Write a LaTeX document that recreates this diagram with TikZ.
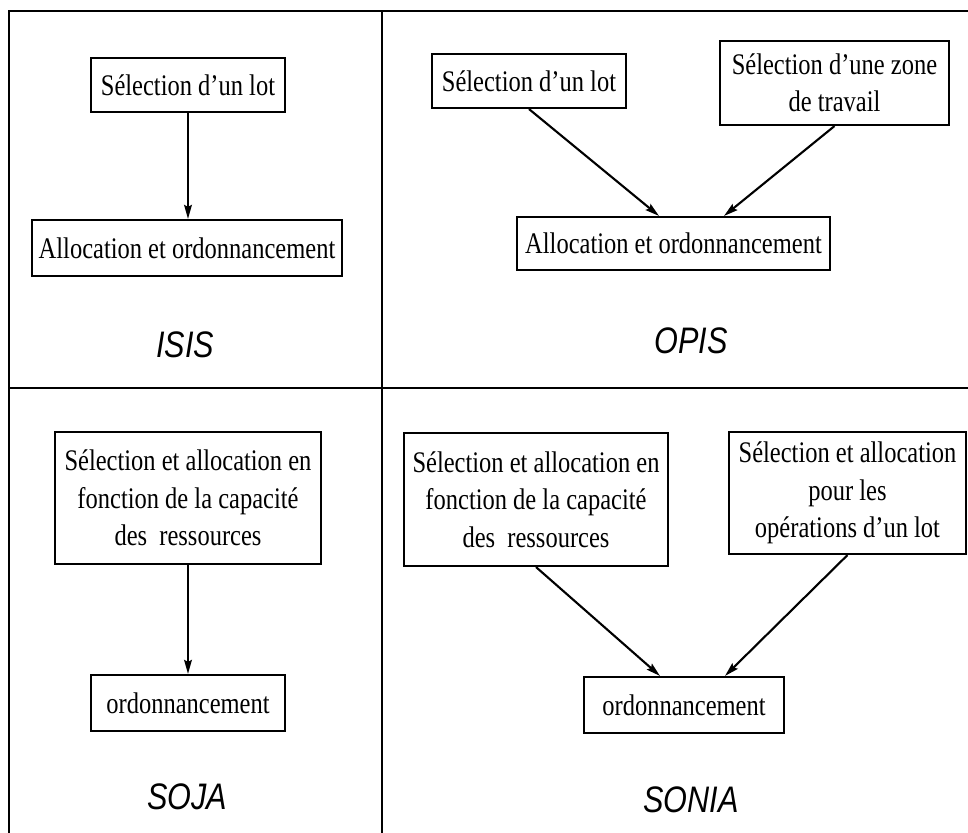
\documentclass[tikz,border=0pt]{standalone}
\usepackage{fontspec}
\setmainfont{Liberation Serif}[FakeStretch=0.82]
\newfontfamily\titrefont{Liberation Sans}[FakeStretch=0.83]
\usetikzlibrary{arrows.meta}

\begin{document}
\begin{tikzpicture}[line width=1.2pt,
  boite/.style={draw,inner sep=0pt,align=center,font=\fontsize{17}{21.3}\selectfont},
  titre/.style={font=\titrefont\itshape\fontsize{21}{22}\selectfont},
  fleche/.style={-{Stealth[length=8pt,width=4.4pt,inset=1.2pt]}}]
\useasboundingbox (0,0) rectangle (19.36,-16.66);
\draw (0.18,-16.66) -- (0.18,-0.22) -- (19.36,-0.22);
\draw (7.64,-0.22) -- (7.64,-16.66);
\draw (0.18,-7.76) -- (19.36,-7.76);

\node [boite,minimum width=3.88cm,minimum height=1.08cm] (a) at (3.76,-1.70) {S\'election d'un lot};
\node [boite,minimum width=6.20cm,minimum height=1.12cm] (b) at (3.74,-4.96) {Allocation et ordonnancement};
\node [titre] (isis) at (3.70,-6.90) {ISIS};
\draw [fleche] (a.south) -- (a.south |- b.north);

\node [boite,minimum width=3.88cm,minimum height=1.08cm] (c) at (10.58,-1.62) {S\'election d'un lot};
\node [boite,minimum width=4.58cm,minimum height=1.68cm] (d) at (16.69,-1.66) {S\'election d'une zone\\de travail};
\node [boite,minimum width=6.26cm,minimum height=1.06cm] (e) at (13.47,-4.87) {Allocation et ordonnancement};
\node [titre] (opis) at (13.82,-6.82) {OPIS};
\draw [fleche] (c.south) -- ([xshift=-0.29cm]e.north);
\draw [fleche] (d.south) -- ([xshift=1.01cm]e.north);

\node [boite,minimum width=5.32cm,minimum height=2.64cm] (f) at (3.76,-9.96) {S\'election et allocation en\\fonction de la capacit\'e\\des\ \ ressources};
\node [boite,minimum width=3.88cm,minimum height=1.12cm] (g) at (3.76,-14.06) {ordonnancement};
\node [titre] (soja) at (3.74,-15.94) {SOJA};
\draw [fleche] (f.south) -- (f.south |- g.north);

\node [boite,minimum width=5.28cm,minimum height=2.66cm] (h) at (10.72,-9.99) {S\'election et allocation en\\fonction de la capacit\'e\\des\ \ ressources};
\node [boite,minimum width=4.74cm,minimum height=2.44cm] (i) at (16.95,-9.86) {S\'election et allocation\\pour les\\op\'erations d'un lot};
\node [boite,minimum width=4.00cm,minimum height=1.12cm] (j) at (13.68,-14.10) {ordonnancement};
\node [titre] (sonia) at (13.82,-16.00) {SONIA};
\draw [fleche] (h.south) -- ([xshift=-0.48cm]j.north);
\draw [fleche] (i.south) -- ([xshift=0.82cm]j.north);
\end{tikzpicture}
\end{document}
